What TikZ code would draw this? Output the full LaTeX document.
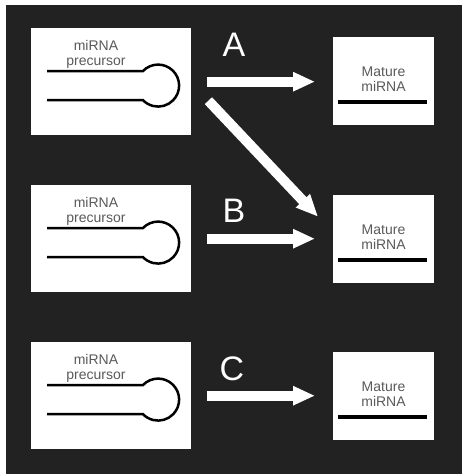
\documentclass[tikz,border=0pt]{standalone}
\usepackage{fontspec}
\setmainfont{Liberation Sans}
\usetikzlibrary{arrows.meta,calc}
\definecolor{bg}{HTML}{222222}
\definecolor{txtgray}{HTML}{5A5A5A}
\begin{document}
\begin{tikzpicture}[x=1pt,y=-1pt,
  precbox/.style={fill=white, minimum width=160pt, minimum height=107pt, inner sep=0pt, anchor=north west},
  maturebox/.style={fill=white, minimum width=101pt, minimum height=88pt, inner sep=0pt, anchor=north west},
  smalltext/.style={text=txtgray, font=\fontsize{14}{15}\selectfont, align=center, inner sep=0pt},
  strand/.style={line width=2.5pt, black},
  flow/.style={white, line width=10pt, -{Triangle[length=22pt,width=18pt]}},
  steplabel/.style={text=white, font=\fontsize{34}{34}\selectfont, inner sep=0pt},
  pics/hairpin/.style={code={
    \node[smalltext] at (65,26) {miRNA\\precursor};
    \draw[strand] (16,43) -- (112,43)
      arc[start angle=-136, end angle=136, radius=21] -- (16,72);
  }},
  pics/mature/.style={code={
    \node[smalltext] at (50.5,42.5) {Mature\\miRNA};
    \draw[black, line width=4pt] (5,65) -- (94,65);
  }}
]
\useasboundingbox (0,0) rectangle (462,474);
\fill[white] (0,0) rectangle (462,474);
\fill[bg] (6,5) rectangle (462,474);

% precursor boxes
\node[precbox] (L1) at (31,28) {};
\node[precbox] (L2) at (31,185) {};
\node[precbox] (L3) at (31,342) {};
\pic at (L1.north west) {hairpin};
\pic at (L2.north west) {hairpin};
\pic at (L3.north west) {hairpin};

% mature miRNA boxes
\node[maturebox] (R1) at (333,37) {};
\node[maturebox] (R2) at (333,195) {};
\node[maturebox] (R3) at (333,352) {};
\pic at (R1.north west) {mature};
\pic at (R2.north west) {mature};
\pic at (R3.north west) {mature};

% processing routes
\draw[flow] ($(L1.east)+(16,0)$) -- ($(L1.east -| R1.west)+(-18,0)$);
\coordinate (dStart) at ($(L1.east)+(17,19)$);
\coordinate (dEnd) at ($(R2.west)+(-15,-22.5)$);
\draw[flow] (dStart) -- (dEnd);
\draw[flow] ($(L2.east)+(16,0)$) -- ($(L2.east -| R2.west)+(-18,0)$);
\draw[flow] ($(L3.east)+(16,0)$) -- ($(L3.east -| R3.west)+(-18,0)$);

% route labels
\node[steplabel] (lA) at (234,45) {A};
\node[steplabel] (lB) at (234,211) {B};
\node[steplabel] (lC) at (232,369) {C};
\end{tikzpicture}
\end{document}
